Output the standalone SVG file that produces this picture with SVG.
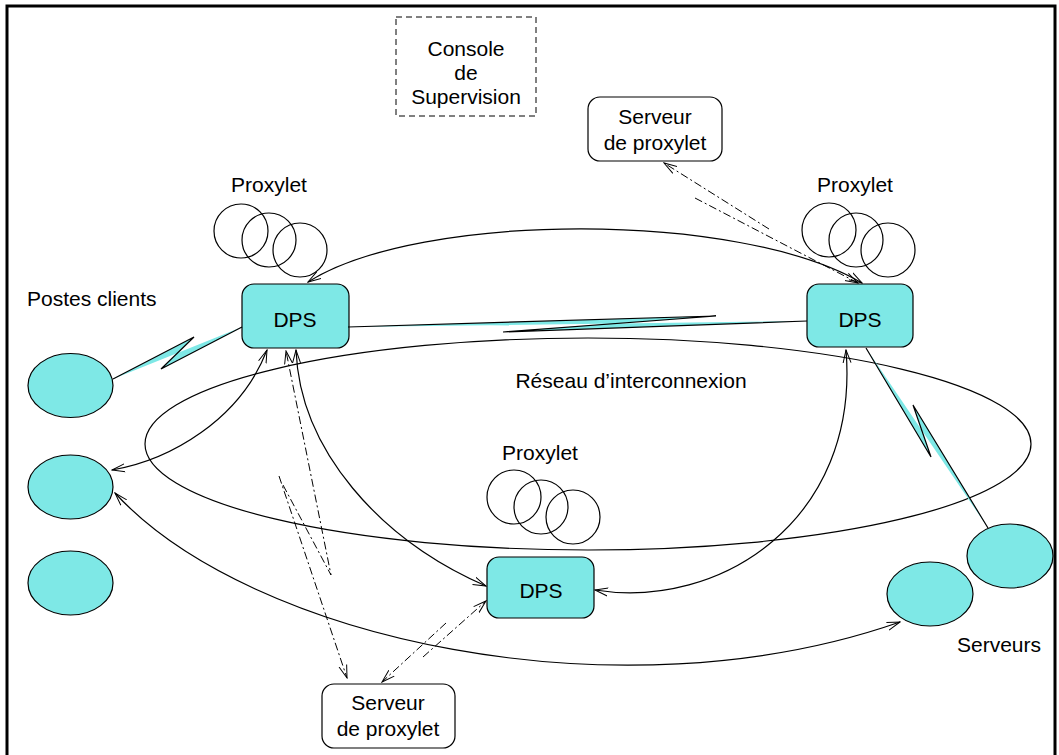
<svg xmlns="http://www.w3.org/2000/svg" width="1059" height="755" viewBox="0 0 1059 755">
<defs>
<style>
text{font-family:"Liberation Sans",Arial,sans-serif;font-size:21px;fill:#000}
.c{text-anchor:middle}
.node{fill:#7ee8e6;stroke:#000;stroke-width:1.2}
.box{fill:#fff;stroke:#000;stroke-width:1.2}
.circ{fill:none;stroke:#000;stroke-width:1.2}
.arc{fill:none;stroke:#000;stroke-width:1.2;marker-end:url(#ah);marker-start:url(#ah)}
.dd{fill:none;stroke:#000;stroke-width:1;stroke-dasharray:8,3,2,3;marker-end:url(#ah)}
.bolt{fill:#7ee8e6;stroke:none}
.boltl{fill:none;stroke:#000;stroke-width:1.2}
</style>
<marker id="ah" viewBox="0 0 14 10" refX="13" refY="5" markerWidth="14" markerHeight="10" markerUnits="userSpaceOnUse" orient="auto-start-reverse">
<path d="M0,1 L13,5 L0,9" fill="none" stroke="#000" stroke-width="1"/>
</marker>
</defs>
<rect x="7" y="6" width="1048" height="760" fill="#fff" stroke="#000" stroke-width="3"/>

<g id="reseau">
<ellipse cx="588" cy="444" rx="443" ry="106" fill="none" stroke="#000" stroke-width="1.2"/>
<text class="c" x="631" y="388">Réseau d’interconnexion</text>
</g>

<g id="console">
<rect x="396" y="17" width="140" height="99" fill="none" stroke="#000" stroke-width="1" stroke-dasharray="6,4"/>
<text class="c" x="466" y="56">Console</text>
<text class="c" x="466" y="80">de</text>
<text class="c" x="466" y="104">Supervision</text>
</g>

<g id="serveur-proxylet-haut">
<rect class="box" x="588" y="97" width="134" height="64" rx="12"/>
<text class="c" x="655" y="124">Serveur</text>
<text class="c" x="655" y="150">de proxylet</text>
</g>

<g id="serveur-proxylet-bas">
<rect class="box" x="322" y="684" width="133" height="64" rx="12"/>
<text class="c" x="388" y="710">Serveur</text>
<text class="c" x="388" y="736">de proxylet</text>
</g>

<g id="proxylet-gauche">
<text class="c" x="269" y="192">Proxylet</text>
<circle class="circ" cx="241" cy="231" r="27"/>
<circle class="circ" cx="269" cy="240" r="27"/>
<circle class="circ" cx="300" cy="250" r="27"/>
</g>

<g id="proxylet-droite">
<text class="c" x="855" y="192">Proxylet</text>
<circle class="circ" cx="829" cy="230" r="27"/>
<circle class="circ" cx="856" cy="240" r="27"/>
<circle class="circ" cx="888" cy="250" r="27"/>
</g>

<g id="proxylet-milieu">
<text class="c" x="540" y="460">Proxylet</text>
<circle class="circ" cx="514" cy="497" r="27"/>
<circle class="circ" cx="541" cy="507" r="27"/>
<circle class="circ" cx="573" cy="517" r="27"/>
</g>

<g id="dps-gauche">
<rect class="node" x="242" y="284" width="107" height="64" rx="12"/>
<text class="c" x="295" y="327">DPS</text>
</g>
<g id="dps-droite">
<rect class="node" x="807" y="284" width="106" height="63" rx="12"/>
<text class="c" x="860" y="327">DPS</text>
</g>
<g id="dps-milieu">
<rect class="node" x="487" y="557" width="107" height="61" rx="12"/>
<text class="c" x="541" y="598">DPS</text>
</g>

<g id="postes-clients">
<text x="27" y="306">Postes clients</text>
<ellipse class="node" cx="70.5" cy="385.5" rx="42.5" ry="32"/>
<ellipse class="node" cx="70.5" cy="487" rx="42.5" ry="32"/>
<ellipse class="node" cx="70.5" cy="583" rx="42.5" ry="32"/>
</g>

<g id="serveurs">
<ellipse class="node" cx="1010" cy="556" rx="43" ry="32"/>
<ellipse class="node" cx="930" cy="594" rx="43" ry="32"/>
<text class="c" x="999" y="652">Serveurs</text>
</g>

<g id="connecteurs">
<polygon class="bolt" points="113,379 194,337 161,369 242,327"/>
<polyline class="boltl" points="113,379 194,337 161,369 242,327"/>
<polygon class="bolt" points="348,327 716,316 503,332 807,321"/>
<polyline class="boltl" points="348,327 716,316 503,332 807,321"/>
<polygon class="bolt" points="866,348 931,457 913,405 988,528"/>
<polyline class="boltl" points="866,348 931,457 913,405 988,528"/>

<path class="arc" d="M308,282 C420,211 740,211 862,283"/>
<path class="arc" d="M112,470 C170,460 240,420 267,350"/>
<path class="arc" d="M115,493 C250,640 620,720 900,622"/>
<path class="arc" d="M296,350 C300,450 380,540 486,586"/>
<path class="arc" d="M595,590 C720,610 860,520 846,350"/>

<path class="dd" d="M446,623 L382,682"/>
<path class="dd" d="M423,657 L486,601"/>
<path class="dd" d="M279,476 L347,678"/>
<path class="dd" d="M283,485 L331,575 L286,351"/>
<path class="dd" d="M769,229 L664,163"/>
<path class="dd" d="M695,198 L858,283"/>
</g>
</svg>
